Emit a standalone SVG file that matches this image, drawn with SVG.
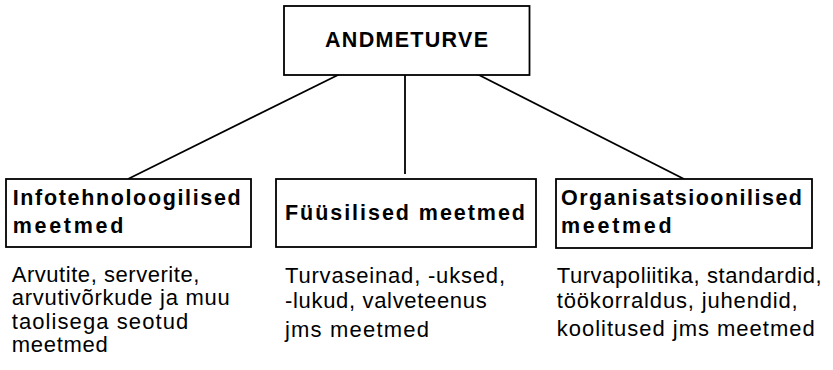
<svg xmlns="http://www.w3.org/2000/svg" width="833" height="370" viewBox="0 0 833 370">
<style>
.box{fill:#fff;stroke:#000;stroke-width:1.8}
.ln{stroke:#000;stroke-width:1.8;fill:none}
.b{font-family:"Liberation Sans",Arial,sans-serif;font-weight:bold;font-size:21.5px;fill:#000}
.r{font-family:"Liberation Sans",Arial,sans-serif;font-size:22px;fill:#000}
</style>
<rect width="833" height="370" fill="#fff"/>
<g id="connectors">
<line class="ln" x1="340" y1="74" x2="128" y2="179"/>
<line class="ln" x1="405" y1="75" x2="405" y2="174"/>
<line class="ln" x1="477" y1="74" x2="684" y2="179"/>
</g>
<g id="andmeturve">
<rect class="box" x="284" y="6" width="245.5" height="69"/>
<text class="b" x="325" y="47" textLength="163" lengthAdjust="spacing">ANDMETURVE</text>
</g>
<g id="infotehnoloogilised">
<rect class="box" x="6" y="179" width="245" height="68"/>
<text class="b" x="12.7" y="205" textLength="228" lengthAdjust="spacing">Infotehnoloogilised</text>
<text class="b" x="12.7" y="233" textLength="110.6" lengthAdjust="spacing">meetmed</text>
</g>
<g id="fuusilised">
<rect class="box" x="276" y="179" width="260" height="68"/>
<text class="b" x="285" y="220" textLength="240" lengthAdjust="spacing">Füüsilised meetmed</text>
</g>
<g id="organisatsioonilised">
<rect class="box" x="556" y="179" width="256" height="69"/>
<text class="b" x="561" y="205" textLength="241" lengthAdjust="spacing">Organisatsioonilised</text>
<text class="b" x="561" y="233" textLength="110.6" lengthAdjust="spacing">meetmed</text>
</g>
<g id="desc-info">
<text class="r" x="11.7" y="282" textLength="187.6" lengthAdjust="spacing">Arvutite, serverite,</text>
<text class="r" x="11.7" y="305" textLength="218" lengthAdjust="spacing">arvutivõrkude ja muu</text>
<text class="r" x="11.7" y="328.5" textLength="176.6" lengthAdjust="spacing">taolisega seotud</text>
<text class="r" x="11.7" y="352" textLength="96" lengthAdjust="spacing">meetmed</text>
</g>
<g id="desc-fuus">
<text class="r" x="285" y="283" textLength="220" lengthAdjust="spacing">Turvaseinad, -uksed,</text>
<text class="r" x="285" y="307.5" textLength="201.7" lengthAdjust="spacing">-lukud, valveteenus</text>
<text class="r" x="285" y="337" textLength="144" lengthAdjust="spacing">jms meetmed</text>
</g>
<g id="desc-org">
<text class="r" x="556.7" y="283" textLength="265" lengthAdjust="spacing">Turvapoliitika, standardid,</text>
<text class="r" x="556.7" y="307.5" textLength="241" lengthAdjust="spacing">töökorraldus, juhendid,</text>
<text class="r" x="556.7" y="336" textLength="258" lengthAdjust="spacing">koolitused jms meetmed</text>
</g>
</svg>
